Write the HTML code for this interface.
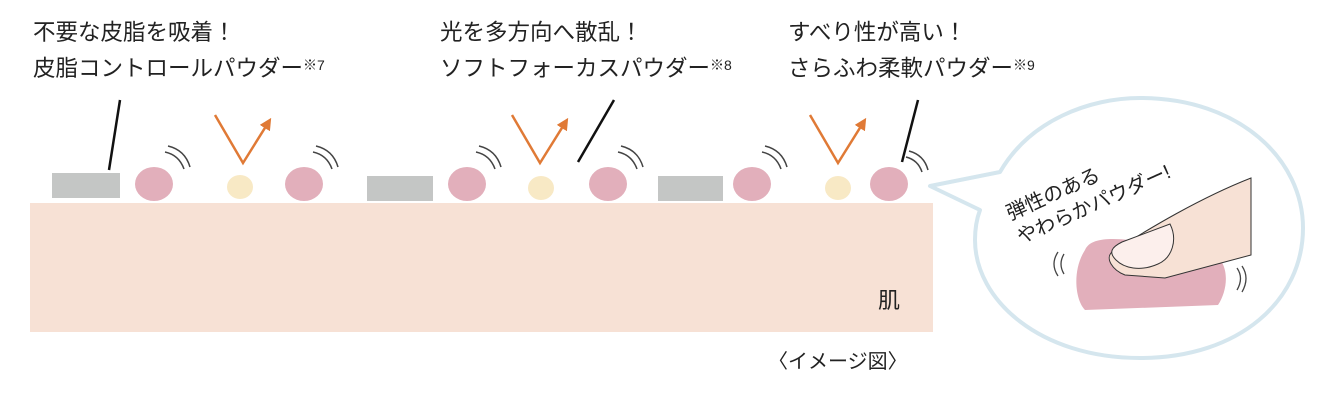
<!DOCTYPE html>
<html><head><meta charset="utf-8"><style>
body{margin:0;background:#fff}
svg{display:block}
text{font-family:"Liberation Sans","Noto Sans CJK JP",sans-serif;fill:#222}
</style></head><body>
<svg width="1334" height="412" viewBox="0 0 1334 412" xmlns="http://www.w3.org/2000/svg">
<defs><marker id="ar" markerWidth="12" markerHeight="12" refX="6" refY="6" orient="auto" markerUnits="userSpaceOnUse" viewBox="0 0 12 12"><path d="M0,0 L12,6 L0,12 z" fill="#e07a36"/></marker></defs>
<text x="33" y="40" font-size="22.5">不要な皮脂を吸着！</text>
<text x="33" y="76" font-size="22.5">皮脂コントロールパウダー<tspan font-size="14" dy="-6">※7</tspan></text>
<text x="440" y="40" font-size="22.5">光を多方向へ散乱！</text>
<text x="440" y="76" font-size="22.5">ソフトフォーカスパウダー<tspan font-size="14" dy="-6">※8</tspan></text>
<text x="788" y="40" font-size="22.5">すべり性が高い！</text>
<text x="788" y="76" font-size="22.5">さらふわ柔軟パウダー<tspan font-size="14" dy="-6">※9</tspan></text>
<rect x="30" y="203" width="903" height="129" fill="#f7e1d5"/>
<text x="878" y="308" font-size="22">肌</text>
<g fill="#c4c6c5"><rect x="52" y="173" width="68" height="25"/><rect x="367" y="176" width="66" height="25"/><rect x="658" y="176" width="65" height="25"/></g>
<g fill="#e2afbb"><ellipse cx="154" cy="184" rx="19" ry="17"/><ellipse cx="304" cy="184" rx="19" ry="17"/><ellipse cx="467" cy="184" rx="19" ry="17"/><ellipse cx="608" cy="184" rx="19" ry="17"/><ellipse cx="752" cy="184" rx="19" ry="17"/><ellipse cx="889" cy="184" rx="19" ry="17"/></g>
<g fill="#f8e9c5"><ellipse cx="240" cy="187" rx="13" ry="12"/><ellipse cx="541" cy="188" rx="13" ry="12"/><ellipse cx="838" cy="188" rx="13" ry="12"/></g>
<g stroke="#e07a36" stroke-width="2.5" fill="none">
<path d="M215,115 L243,163 L268,123" marker-end="url(#ar)"/>
<path d="M512,115 L540,163 L565,123" marker-end="url(#ar)"/>
<path d="M810,115 L838,163 L863,123" marker-end="url(#ar)"/>
</g>
<g stroke="#111" stroke-width="2.5"><line x1="120" y1="100" x2="109" y2="170"/><line x1="614" y1="100" x2="578" y2="162"/><line x1="918" y1="100" x2="902" y2="162"/></g>
<g stroke="#444" stroke-width="1.5" fill="none">
<path d="M165,152 q14,3 19,17 M168,146 q17,4 22,21"/>
<path d="M313,152 q14,3 19,17 M316,146 q17,4 22,21"/>
<path d="M476,152 q14,3 19,17 M479,146 q17,4 22,21"/>
<path d="M618,152 q14,3 19,17 M621,146 q17,4 22,21"/>
<path d="M762,152 q14,3 19,17 M765,146 q17,4 22,21"/>
<path d="M906,157 q12,3 16,15 M909,151 q15,4 19,19"/>
</g>
<path d="M1000,172 C1030,120 1090,98 1140,98 C1240,98 1303,160 1303,228 C1303,300 1240,358 1140,358 C1040,358 975,300 975,240 C975,228 977,218 980,210 L930,186 Z" fill="#fff" stroke="#d5e6ee" stroke-width="4" stroke-linejoin="round"/>
<path d="M1085,250 C1090,238 1110,238 1130,240 C1160,242 1200,248 1215,255 C1230,265 1228,290 1218,305 L1085,310 C1075,300 1072,270 1085,250 Z" fill="#e2afbb"/>
<path d="M1251,178 L1251,255 L1165,278 L1125,275 C1112,270 1105,258 1112,252 C1150,228 1200,198 1251,178 Z" fill="#f7e1d5" stroke="#333" stroke-width="1"/>
<path d="M1170,224 C1178,240 1172,258 1158,264 C1140,272 1124,268 1116,260 C1108,252 1112,247 1122,242 Z" fill="#fcefec" stroke="#333" stroke-width="1"/>
<g stroke="#444" stroke-width="1.3" fill="none"><path d="M1058,252 q-8,12 0,24 M1064,254 q-6,10 0,20"/><path d="M1237,268 q7,10 0,22 M1242,266 q8,12 0,26"/></g>
<g transform="rotate(-24 1010 215)"><text x="1008" y="220" font-size="20">弾性のある</text><text x="1008" y="246" font-size="20">やわらかパウダー!</text></g>
<text x="768" y="368" font-size="20">〈イメージ図〉</text>
</svg>
</body></html>
